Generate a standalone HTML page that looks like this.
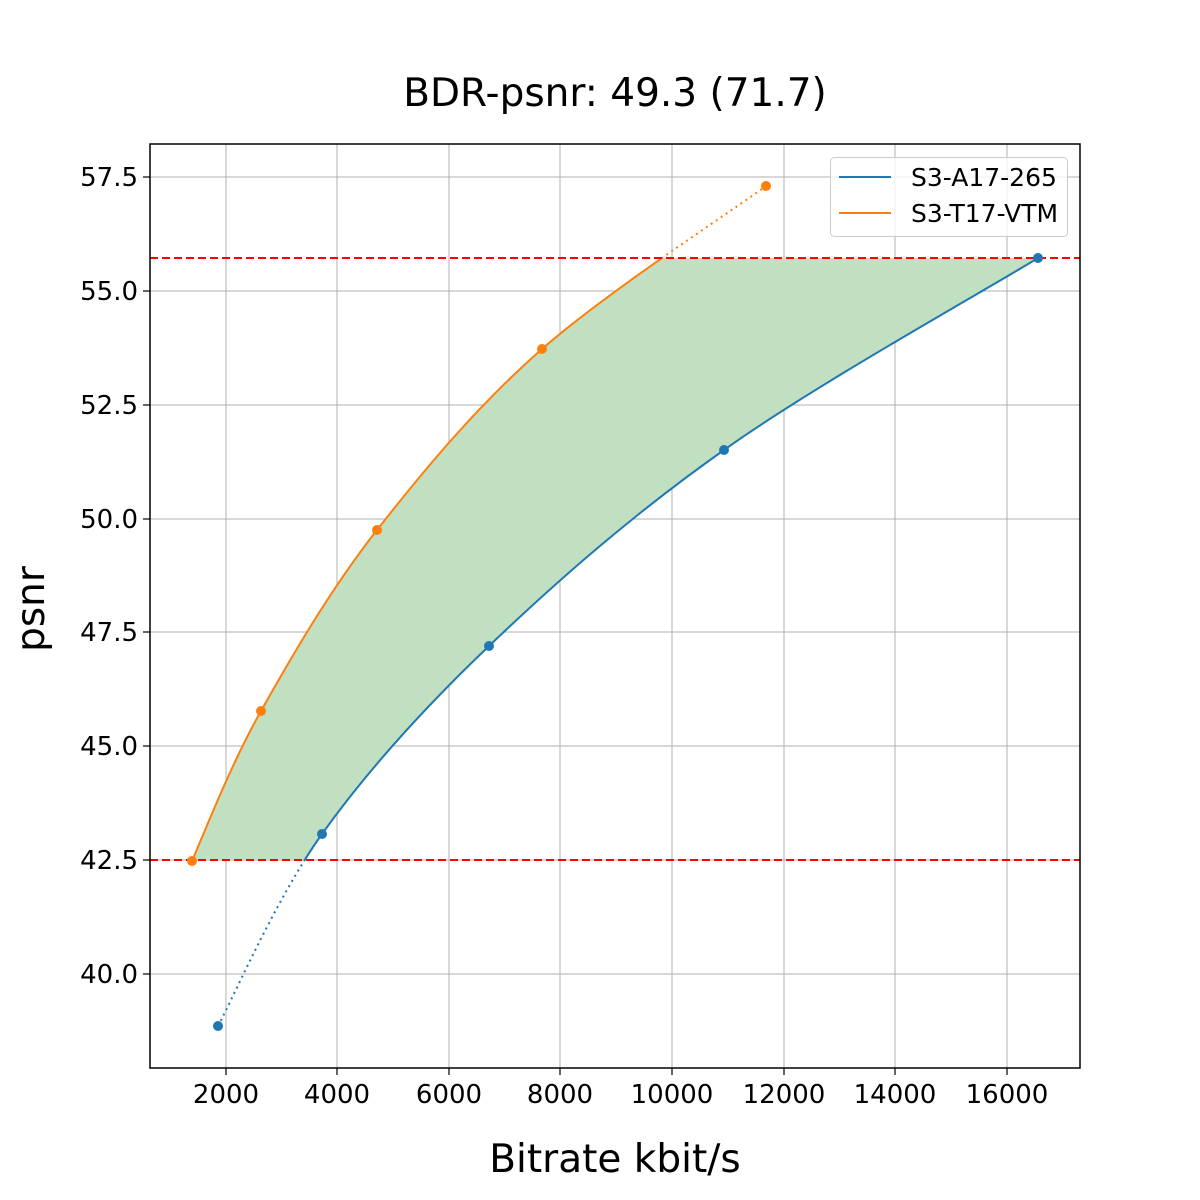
<!DOCTYPE html>
<html><head><style>body{margin:0;background:#fff}svg{display:block}text{font-family:"DejaVu Sans","Liberation Sans",sans-serif}</style></head><body>
<svg width="1200" height="1200" viewBox="0 0 1200 1200" xmlns="http://www.w3.org/2000/svg">
<defs>
<clipPath id="mid"><rect x="150" y="258" width="930" height="602"/></clipPath>
<clipPath id="above"><rect x="150" y="144" width="930" height="114"/></clipPath>
<clipPath id="belowtop"><rect x="150" y="258" width="930" height="810"/></clipPath>
<clipPath id="above860"><rect x="150" y="144" width="930" height="716"/></clipPath>
<clipPath id="below860"><rect x="150" y="860" width="930" height="208"/></clipPath>
</defs>
<g stroke="#b0b0b0" stroke-width="1">
<line x1="226" y1="144" x2="226" y2="1068"/><line x1="337" y1="144" x2="337" y2="1068"/><line x1="449" y1="144" x2="449" y2="1068"/><line x1="560" y1="144" x2="560" y2="1068"/><line x1="672" y1="144" x2="672" y2="1068"/><line x1="784" y1="144" x2="784" y2="1068"/><line x1="895" y1="144" x2="895" y2="1068"/><line x1="1007" y1="144" x2="1007" y2="1068"/>
<line x1="150" y1="177" x2="1080" y2="177"/><line x1="150" y1="291" x2="1080" y2="291"/><line x1="150" y1="405" x2="1080" y2="405"/><line x1="150" y1="519" x2="1080" y2="519"/><line x1="150" y1="632" x2="1080" y2="632"/><line x1="150" y1="746" x2="1080" y2="746"/><line x1="150" y1="860" x2="1080" y2="860"/><line x1="150" y1="974" x2="1080" y2="974"/>
</g>
<path clip-path="url(#mid)" fill="#c1dfc1" d="M192,861 C203,836 230,766 261,711 C292,656 330,590 377,530 C424,470 477,406 542,349 C607,292 729,213 766,186 L1038,150 L1038,258 C986,290 815,385 724,450 C632,515 556,582 489,646 C422,710 367,771 322,834 C277,897 235,994 218,1026 Z"/>
<g fill="none" stroke="#1f77b4" stroke-width="2">
<path clip-path="url(#above860)" d="M218,1026 C235,994 277,897 322,834 C367,771 422,710 489,646 C556,582 632,515 724,450 C815,385 986,290 1038,258"/>
<path clip-path="url(#below860)" stroke-dasharray="2,4" d="M218,1026 C235,994 277,897 322,834"/>
</g>
<g fill="none" stroke="#ff7f0e" stroke-width="2">
<path clip-path="url(#belowtop)" d="M192,861 C203,836 230,766 261,711 C292,656 330,590 377,530 C424,470 477,406 542,349 C607,292 729,213 766,186"/>
<path clip-path="url(#above)" stroke-dasharray="2,4" d="M542,349 C607,292 729,213 766,186"/>
</g>
<g stroke="#ff0000" stroke-width="2" stroke-dasharray="8,4"><line x1="150" y1="258" x2="1080" y2="258"/><line x1="150" y1="860" x2="1080" y2="860"/></g>
<g fill="#1f77b4"><circle cx="218" cy="1026" r="5"/><circle cx="322" cy="834" r="5"/><circle cx="489" cy="646" r="5"/><circle cx="724" cy="450" r="5"/><circle cx="1038" cy="258" r="5"/></g>
<g fill="#ff7f0e"><circle cx="192" cy="861" r="5"/><circle cx="261" cy="711" r="5"/><circle cx="377" cy="530" r="5"/><circle cx="542" cy="349" r="5"/><circle cx="766" cy="186" r="5"/></g>
<rect x="150" y="144" width="930" height="924" fill="none" stroke="#000" stroke-width="1.5"/>
<g stroke="#000" stroke-width="1.2">
<line x1="226" y1="1068" x2="226" y2="1075"/><line x1="337" y1="1068" x2="337" y2="1075"/><line x1="449" y1="1068" x2="449" y2="1075"/><line x1="560" y1="1068" x2="560" y2="1075"/><line x1="672" y1="1068" x2="672" y2="1075"/><line x1="784" y1="1068" x2="784" y2="1075"/><line x1="895" y1="1068" x2="895" y2="1075"/><line x1="1007" y1="1068" x2="1007" y2="1075"/>
<line x1="143" y1="177" x2="150" y2="177"/><line x1="143" y1="291" x2="150" y2="291"/><line x1="143" y1="405" x2="150" y2="405"/><line x1="143" y1="519" x2="150" y2="519"/><line x1="143" y1="632" x2="150" y2="632"/><line x1="143" y1="746" x2="150" y2="746"/><line x1="143" y1="860" x2="150" y2="860"/><line x1="143" y1="974" x2="150" y2="974"/>
</g>
<g font-size="26" text-anchor="middle" fill="#000">
<text x="226" y="1103">2000</text><text x="337" y="1103">4000</text><text x="449" y="1103">6000</text><text x="560" y="1103">8000</text><text x="672" y="1103">10000</text><text x="784" y="1103">12000</text><text x="895" y="1103">14000</text><text x="1007" y="1103">16000</text>
</g>
<g font-size="26" text-anchor="end" fill="#000">
<text x="138" y="186">57.5</text><text x="138" y="300">55.0</text><text x="138" y="414">52.5</text><text x="138" y="528">50.0</text><text x="138" y="641">47.5</text><text x="138" y="755">45.0</text><text x="138" y="869">42.5</text><text x="138" y="983">40.0</text>
</g>
<text x="615" y="106" font-size="39" text-anchor="middle">BDR-psnr: 49.3 (71.7)</text>
<text x="615" y="1172" font-size="39" text-anchor="middle">Bitrate kbit/s</text>
<text transform="translate(44,609) rotate(-90)" font-size="39" text-anchor="middle">psnr</text>
<rect x="830.5" y="157.5" width="237" height="79" rx="4" fill="#fff" fill-opacity="0.8" stroke="#ccc"/>
<line x1="839" y1="177" x2="891" y2="177" stroke="#1f77b4" stroke-width="2"/>
<line x1="839" y1="213" x2="891" y2="213" stroke="#ff7f0e" stroke-width="2"/>
<text x="911" y="186" font-size="25">S3-A17-265</text>
<text x="911" y="222" font-size="25">S3-T17-VTM</text>
</svg>
</body></html>
